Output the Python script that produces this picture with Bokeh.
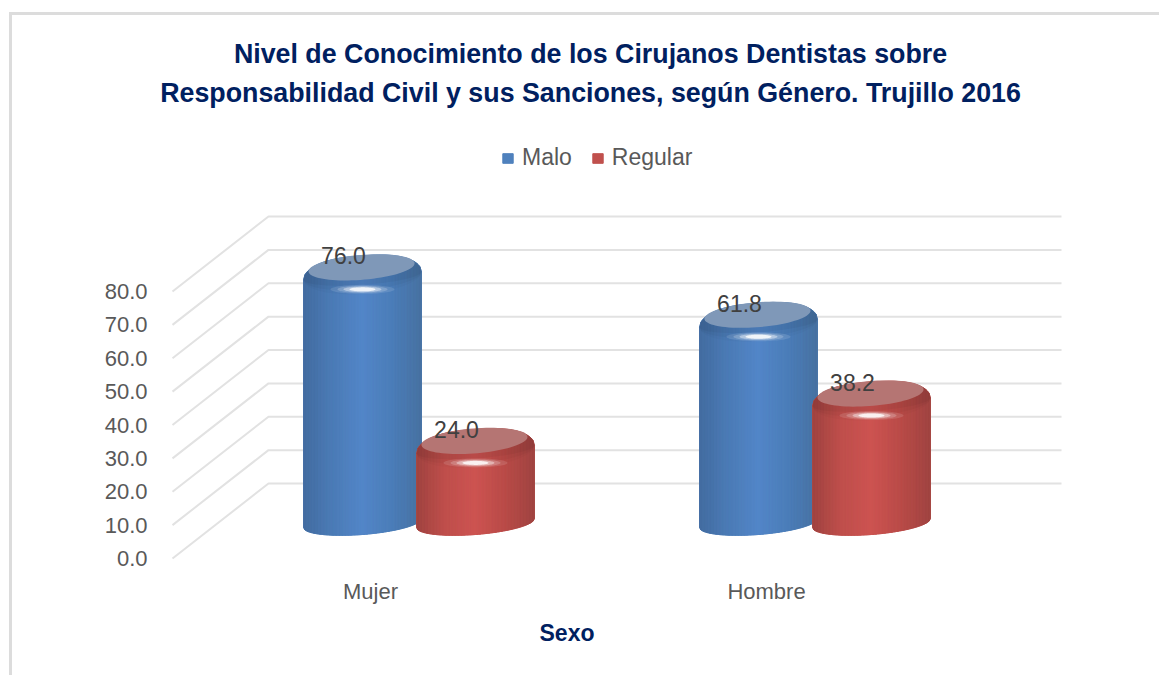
import numpy as np
from bokeh.plotting import figure
from bokeh.models import ColumnDataSource, FixedTicker, Label, Legend, LegendItem, Range1d, Title
from bokeh.core.properties import value
from bokeh.embed import file_html
from bokeh.resources import INLINE

categories = ["Mujer", "Hombre"]
series_names = ["Malo", "Regular"]
malo = [76.0, 61.8]
regular = [24.0, 38.2]
y_ticks = [0, 10, 20, 30, 40, 50, 60, 70, 80]
title_lines = ["Nivel de Conocimiento de los Cirujanos Dentistas sobre",
               "Responsabilidad Civil y sus Sanciones, según Género. Trujillo 2016"]
x_title = "Sexo"

FONT = "Liberation Sans"
NAVY = "#002060"
GREY = "#595959"

PX_X = 396.0      # pixels per category step
PX_Y = 3.3375     # pixels per percentage point
X0, Y0 = 370.0, 558.0  # pixel position of category 0 / value 0
FL, FR, FT, FB = 155.0, 1159.0, 0.0, 567.0  # frame edges in pixels


def xd(px):
    return (px - X0) / PX_X


def yd(py):
    return (Y0 - py) / PX_Y


W, H = 1159, 675
p = figure(width=W, height=H, output_backend="svg", toolbar_location=None,
           x_range=Range1d(xd(FL), xd(FR)), y_range=Range1d(yd(FB), yd(FT)),
           min_border_left=int(FL), min_border_right=0, min_border_top=0,
           min_border_bottom=int(H - FB), outline_line_color=None,
           border_fill_color=None, background_fill_color=None)
p.styles = {
    "background-color": "white",
    "background-image": "linear-gradient(#dcdcdc,#dcdcdc),linear-gradient(#dcdcdc,#dcdcdc)",
    "background-size": "3px 100%, 100% 3px",
    "background-position": "9px 12px, 9px 12px",
    "background-repeat": "no-repeat",
}
p.grid.visible = False

# axes
p.yaxis.ticker = FixedTicker(ticks=y_ticks)
p.yaxis.major_label_overrides = {t: f"{t:.1f}" for t in y_ticks}
p.xaxis.ticker = FixedTicker(ticks=list(range(len(categories))))
p.xaxis.major_label_overrides = {i: c for i, c in enumerate(categories)}
for ax in (p.xaxis[0], p.yaxis[0]):
    ax.axis_line_color = None
    ax.major_tick_line_color = None
    ax.minor_tick_line_color = None
    ax.major_label_text_font = FONT
    ax.major_label_text_color = GREY
    ax.major_label_text_font_size = "22px"
p.yaxis.major_label_standoff = 2
p.xaxis.major_label_standoff = 5

# gridlines: side wall + back wall
WALL_DY = (558.0 - 483.0) / PX_Y
xs = [[xd(172), xd(268), xd(1061)] for _ in y_ticks]
ys = [[t, t + WALL_DY, t + WALL_DY] for t in y_ticks]
p.multi_line(xs, ys, line_color="#e2e2e2", line_width=2)

U = np.linspace(-1, 1, 81)
RX, RY, TILT = 59.0, 20.0, 4.0
DEPTH = (558.0 - 529.0) / PX_Y
BASE = (558.0 - 522.5) / PX_Y


def rim(c, t, u, ry=RY, tilt=TILT, power=2.6):
    return c + u * RX / PX_X, t + (ry * np.sqrt(np.clip(1 - np.abs(u) ** power, 0, 1)) + tilt * u) / PX_Y


def lerp_colors(stops, f):
    pos = [s[0] for s in stops]
    out = []
    for ff in f:
        rgb = [int(np.interp(ff, pos, [s[1][k] for s in stops])) for k in range(3)]
        out.append("#%02x%02x%02x" % tuple(rgb))
    return out


def ring(c, t, cx, cy, rx, ry, tilt=0.0):
    a = np.linspace(0, 2 * np.pi, 80)
    return (list(c + (cx + rx * np.cos(a)) / PX_X),
            list(t + (cy + ry * np.sin(a) + tilt * np.cos(a)) / PX_Y))


def draw_series(vals, off_px, stops, base_col, face_col):
    sil_x, sil_y, sx, sy, sc = [], [], [], [], []
    cols = lerp_colors(stops, (U[:-1] + U[1:]) / 4 + 0.5)
    for i, v in enumerate(vals):
        c = i + off_px / PX_X
        tx, ty = rim(c, v + DEPTH, U)
        bx, by = rim(c, BASE, U, ry=-11.5, tilt=4.5, power=2.0)
        sil_x.append(list(tx) + list(bx[::-1]))
        sil_y.append(list(ty) + list(by[::-1]))
        for k in range(len(U) - 1):
            sx.append([tx[k], tx[k + 1], tx[k + 1], tx[k]])
            sy.append([ty[k], ty[k + 1], by[k + 1], by[k]])
            sc.append(cols[k])
    r = p.patches(sil_x, sil_y, fill_color=base_col, line_color=base_col)
    src = ColumnDataSource(dict(x=sx, y=sy, c=sc))
    p.patches("x", "y", source=src, fill_color="c", line_color="c", line_width=0.6)
    for i, v in enumerate(vals):
        c = i + off_px / PX_X
        t = v + DEPTH
        tx, ty = rim(c, t, U)
        # soft shoulder under the top face
        for low, al in ((-18.0, 0.02), (-14.0, 0.03), (-9.0, 0.04)):
            lx, ly = rim(c, t, U, ry=low, power=2.0)
            p.patch(list(tx) + list(lx[::-1]), list(ty) + list(ly[::-1]),
                    fill_color="#000000", fill_alpha=al, line_color=None)
        fx, fy = ring(c, t, -1, 8.5, 53, 12.5, 4)
        p.patch(fx, fy, fill_color=face_col, line_color=None)
        # soft highlight
        for rx, ry, al in ((32, 4.5, 0.12), (25, 3.6, 0.2), (19, 2.8, 0.4), (13, 2.0, 0.8)):
            hx, hy = ring(c, t, 0, -13.5, rx, ry)
            p.patch(hx, hy, fill_color="#ffffff", fill_alpha=al, line_color=None)
    lx = [i + (off_px - 19) / PX_X for i in range(len(vals))]
    ly = [v + DEPTH + 20 / PX_Y for v in vals]
    p.text(lx, ly, text=[f"{v:.1f}" for v in vals], text_align="center", text_baseline="middle",
           text_font=value(FONT), text_font_size="23px", text_color="#404040")
    return r


blue_stops = [(0, (68, 108, 160)), (0.25, (76, 124, 183)), (0.5, (84, 135, 201)),
              (0.75, (76, 126, 185)), (1, (72, 114, 162))]
red_stops = [(0, (160, 68, 65)), (0.25, (192, 80, 77)), (0.5, (206, 85, 82)),
             (0.75, (186, 76, 73)), (1, (160, 68, 66))]
r_malo = draw_series(malo, -8, blue_stops, "#4F81BD", "#7F98B8")
r_reg = draw_series(regular, 105, red_stops, "#C0504D", "#B57573")

# legend
leg = Legend(items=[LegendItem(label=series_names[0], renderers=[r_malo]),
                    LegendItem(label=series_names[1], renderers=[r_reg])],
             orientation="horizontal", location=(501 - FL, FB - 171),
             padding=0, margin=0, spacing=19, glyph_width=13, glyph_height=12, label_standoff=8,
             border_line_color=None, background_fill_alpha=0,
             label_text_font=FONT, label_text_font_size="23px", label_text_color=GREY)
p.add_layout(leg)

# titles
for line, py in zip(title_lines, (53, 92)):
    p.add_layout(Label(x=xd(590), y=yd(py), text=line, text_align="center", text_baseline="middle",
                       text_font=FONT, text_font_style="bold", text_font_size="26.8px",
                       text_color=NAVY))
p.add_layout(Title(text=x_title, align="left", offset=539 - FL, standoff=22,
                   text_font=FONT, text_font_style="bold", text_font_size="23px",
                   text_color=NAVY), "below")

open("out.html", "w").write(file_html(p, INLINE))
